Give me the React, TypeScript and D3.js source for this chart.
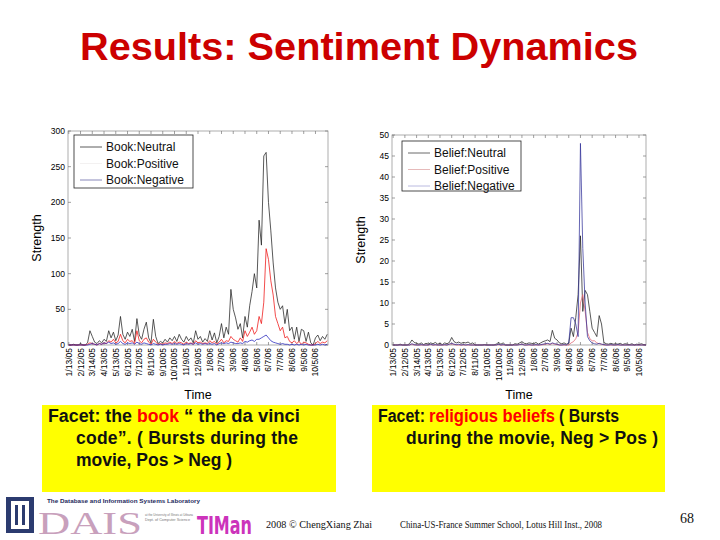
import React from "react";
import * as d3 from "d3";

// samples are every STEP days starting at 1/13/05
const STEP = 6;

const tickLabels = [
  "1/13/05", "2/12/05", "3/14/05", "4/13/05", "5/13/05", "6/12/05", "7/12/05", "8/11/05",
  "9/10/05", "10/10/05", "11/9/05", "12/9/05", "1/8/06", "2/7/06", "3/9/06", "4/8/06",
  "5/8/06", "6/7/06", "7/7/06", "8/6/06", "9/5/06", "10/5/06",
];
const tickDays = tickLabels.map((_, i) => i * 30);

const bookTicks = [0, 50, 100, 150, 200, 250, 300];
const beliefTicks = [0, 5, 10, 15, 20, 25, 30, 35, 40, 45, 50];

const bookNeutral = [
  0, 0, 1, 0, 0, 2, 0, 0, 3, 20, 12, 4, 2, 6, 3, 8, 5, 20, 10, 18,
  6, 14, 40, 15, 8, 18, 12, 22, 5, 37, 14, 8, 22, 32, 10, 3, 36, 12, 2, 5,
  3, 8, 4, 10, 6, 12, 5, 15, 8, 4, 12, 6, 10, 3, 20, 8, 12, 4, 9, 5,
  20, 7, 17, 3, 12, 30, 10, 25, 15, 78, 50, 38, 22, 30, 10, 40, 25, 55, 75, 100,
  80, 175, 140, 265, 270, 200, 160, 115, 80, 60, 50, 55, 30, 50, 20, 25, 8, 25, 5, 22,
  20, 5, 18, 3, 0, 10, 14, 6, 12, 8, 15,
];
const bookPositive = [
  0, 0, 0, 0, 0, 0, 0, 0, 1, 3, 2, 1, 0, 2, 1, 3, 2, 6, 4, 8,
  3, 5, 15, 6, 3, 8, 5, 6, 2, 20, 6, 3, 8, 10, 4, 1, 8, 4, 1, 2,
  1, 3, 2, 4, 2, 5, 2, 4, 3, 1, 4, 2, 3, 1, 6, 3, 4, 2, 3, 2,
  6, 3, 5, 1, 4, 8, 3, 6, 5, 12, 8, 6, 4, 10, 5, 20, 12, 18, 25, 15,
  20, 40, 30, 60, 135, 120, 90, 70, 40, 30, 20, 25, 10, 12, 5, 3, 6, 2, 5, 1,
  4, 3, 1, 0, 0, 2, 5, 2, 4, 3, 6,
];
const bookNegative = [
  0, 0, 0, 0, 0, 0, 0, 0, 0, 1, 2, 1, 0, 2, 1, 3, 2, 4, 2, 3,
  1, 2, 5, 2, 1, 3, 2, 3, 1, 4, 2, 1, 3, 2, 1, 0, 2, 1, 0, 1,
  0, 1, 1, 2, 1, 2, 1, 2, 1, 0, 2, 1, 2, 1, 3, 1, 2, 1, 2, 1,
  2, 1, 2, 0, 2, 3, 2, 3, 2, 4, 3, 2, 2, 3, 2, 5, 4, 6, 7, 5,
  8, 8, 10, 12, 14, 10, 6, 4, 3, 2, 1, 2, 1, 1, 0, 1, 0, 1, 0, 1,
  0, 1, 0, 0, 0, 0, 1, 0, 1, 0, 1,
];

const beliefNeutral = [
  0, 0, 0, 0.2, 0, 0, 0, 0.3, 1.2, 0.6, 0.4, 0.2, 0.5, 0.1, 0.4, 0.2, 0.5, 0.3, 0.6, 0.2,
  0.4, 0.1, 0.5, 0.3, 0.6, 1.8, 0.8, 0.5, 0.7, 0.4, 0.6, 0.5, 0.7, 0.3, 0.5, 0, 0, 0, 0, 0.1,
  0, 0, 0, 0, 0.2, 0.6, 0.2, 0.5, 0, 0, 0, 0, 0.3, 0.2, 0.5, 0.8, 0.4, 0.3, 0.5, 0.4,
  0.3, 0.6, 0.2, 0.5, 0.8, 1.0, 1.2, 0.8, 3.5, 1.6, 1.2, 0.5, 0.3, 0.5, 0.2, 0.4, 4.0, 2.0, 6.5, 12,
  26, 8, 13, 12, 8, 4, 3, 2, 7, 5, 0.6, 0.3, 0.2, 0.4, 0.2, 0.3, 0.2, 0.4, 0.1, 0.3,
  0.2, 0.1, 0.3, 0, 0.2, 0.1, 0.3, 0.1, 0,
];
const beliefPositive = [
  0, 0, 0, 0, 0, 0, 0, 0, 0.2, 0, 0, 0, 0, 0, 0, 0, 0.1, 0, 0, 0,
  0, 0, 0, 0, 0.2, 0.3, 0.1, 0, 0, 0, 0, 0, 0, 0, 0, 0, 0, 0, 0, 0,
  0, 0, 0, 0, 0, 0.1, 0, 0, 0, 0, 0, 0, 0, 0, 0.1, 0.2, 0, 0, 0, 0,
  0, 0, 0, 0, 0.1, 0.2, 0.3, 0.1, 0.4, 0.2, 0.1, 0, 0, 0, 0, 0, 0.5, 0.8, 1.5, 3,
  10, 12, 8, 3, 1.5, 1, 1, 0.5, 0.3, 0.2, 0, 0, 0, 0, 0, 0, 0, 0, 0, 0,
  0, 0, 0, 0, 0, 0, 0, 0, 0,
];
const beliefNegative = [
  0, 0, 0, 0, 0, 0, 0, 0, 0.3, 0.1, 0, 0, 0.1, 0, 0, 0, 0.2, 0, 0.1, 0,
  0, 0, 0.1, 0, 0.2, 0.4, 0.2, 0.1, 0.2, 0, 0.1, 0, 0.1, 0, 0, 0, 0, 0, 0, 0,
  0, 0, 0, 0, 0, 0.2, 0, 0.1, 0, 0, 0, 0, 0, 0, 0.1, 0.2, 0, 0, 0.1, 0,
  0, 0.1, 0, 0.1, 0.2, 0.3, 0.4, 0.2, 0.5, 0.3, 0.2, 0, 0, 0.1, 0, 0.5, 6.5, 6.5, 5, 2,
  48, 23, 10, 2, 1, 0.5, 0.3, 0.2, 0.4, 0.2, 0.1, 0, 0, 0.1, 0, 0, 0.1, 0, 0, 0,
  0, 0, 0, 0, 0, 0, 0, 0, 0,
];

const FONT = "'Liberation Sans', Arial, sans-serif";
const SERIF = "'Liberation Serif', 'Times New Roman', serif";

type Series = { values: number[]; color: string; legendColor: string; name: string };

function Panel(props: {
  left: number; right: number; top: number; bottom: number;
  xDomain: [number, number]; yTicks: number[]; series: Series[];
  legend: { x: number; y: number; w: number; h: number };
}) {
  const { left, right, top, bottom, xDomain, yTicks, series, legend } = props;
  const x = d3.scaleLinear().domain(xDomain).range([left, right]);
  const y = d3.scaleLinear().domain([0, yTicks[yTicks.length - 1]]).range([bottom, top]);
  const line = d3.line<number>().x((_, i) => x(i * STEP)).y((d) => y(d));
  const tk = 3;
  return (
    <g>
      <rect x={left} y={top} width={right - left} height={bottom - top} fill="#fff" stroke="#9a9a9a" strokeWidth={0.8} />
      {yTicks.map((t) => (
        <g key={"y" + t}>
          <line x1={left} x2={left + tk} y1={y(t)} y2={y(t)} stroke="#777" strokeWidth={0.7} />
          <line x1={right - tk} x2={right} y1={y(t)} y2={y(t)} stroke="#777" strokeWidth={0.7} />
          <text x={left - 3} y={y(t)} dy="0.35em" textAnchor="end" fontSize={8.5} fontFamily={FONT} fill="#000">{t}</text>
        </g>
      ))}
      {tickDays.map((d, i) => (
        <g key={"x" + d}>
          <line x1={x(d)} x2={x(d)} y1={bottom} y2={bottom - tk} stroke="#777" strokeWidth={0.7} />
          <line x1={x(d)} x2={x(d)} y1={top} y2={top + tk} stroke="#777" strokeWidth={0.7} />
          <text transform={`translate(${x(d)},${bottom + 3}) rotate(-90)`} dy="0.35em" textAnchor="end" fontSize={8.5} fontFamily={FONT} fill="#000">{tickLabels[i]}</text>
        </g>
      ))}
      {series.map((s) => (
        <path key={s.name} d={line(s.values) || ""} fill="none" stroke={s.color} strokeWidth={0.75} strokeLinejoin="round" />
      ))}
      <text x={(left + right) / 2} y={bottom + 54} textAnchor="middle" fontSize={12.5} fontFamily={FONT} fill="#000">Time</text>
      <text transform={`translate(${left - 27},${(top + bottom) / 2}) rotate(-90)`} textAnchor="middle" fontSize={12.5} fontFamily={FONT} fill="#000">Strength</text>
      <rect x={legend.x} y={legend.y} width={legend.w} height={legend.h} fill="#fff" stroke="#222" strokeWidth={0.8} />
      {series.map((s, i) => {
        const ly = legend.y + 12 + i * 16.5;
        return (
          <g key={"l" + s.name}>
            <line x1={legend.x + 6} x2={legend.x + 28} y1={ly} y2={ly} stroke={s.legendColor} strokeWidth={0.8} />
            <text x={legend.x + 32} y={ly} dy="0.35em" fontSize={12} fontFamily={FONT} fill="#111">{s.name}</text>
          </g>
        );
      })}
    </g>
  );
}

export default function App() {
  const bookSeries: Series[] = [
    { name: "Book:Neutral", values: bookNeutral, color: "#222", legendColor: "#333" },
    { name: "Book:Positive", values: bookPositive, color: "#ee1111", legendColor: "#f0eeee" },
    { name: "Book:Negative", values: bookNegative, color: "#2222bb", legendColor: "#6a6aa8" },
  ];
  const beliefSeries: Series[] = [
    { name: "Belief:Neutral", values: beliefNeutral, color: "#222", legendColor: "#444" },
    { name: "Belief:Positive", values: beliefPositive, color: "#e06070", legendColor: "#e0a8a8" },
    { name: "Belief:Negative", values: beliefNegative, color: "#333399", legendColor: "#a8a8d8" },
  ];
  const adj = "spacingAndGlyphs";
  return (
    <div style={{ position: "absolute", left: 0, top: 0 }}>
      <svg width={720} height={540} style={{ display: "block", background: "#fff" }}>
        <text x={359} y={60} textAnchor="middle" fontSize={39} fontWeight="bold" fontFamily={FONT} fill="#cc0000"
          textLength={558} lengthAdjust={adj}>
          Results: Sentiment Dynamics
        </text>

        <Panel left={68} right={328} top={131} bottom={345} xDomain={[-2, 662]} yTicks={bookTicks}
          series={bookSeries} legend={{ x: 74, y: 135, w: 119, h: 53 }} />
        <Panel left={392} right={646} top={135} bottom={345} xDomain={[-3, 648]} yTicks={beliefTicks}
          series={beliefSeries} legend={{ x: 402, y: 141, w: 119, h: 50 }} />

        <rect x={42} y={405} width={294} height={87} fill="#ffff00" />
        <rect x={372} y={405} width={293} height={87} fill="#ffff00" />
        <g fontFamily={FONT} fontWeight="bold" fontSize={17.5} fill="#111">
          <text x={48} y={422} textLength={84} lengthAdjust={adj}>Facet: the</text>
          <text x={137} y={422} textLength={42} lengthAdjust={adj} fill="#ff0000">book</text>
          <text x={184} y={422} textLength={116} lengthAdjust={adj}>“ the da vinci</text>
          <text x={76} y={444} textLength={222} lengthAdjust="spacing">code”. ( Bursts during the</text>
          <text x={76} y={466}>movie, Pos &gt; Neg )</text>
          <text x={378} y={422} textLength={47} lengthAdjust={adj}>Facet:</text>
          <text x={429} y={422} textLength={126} lengthAdjust={adj} fill="#ff0000">religious beliefs</text>
          <text x={559} y={422} textLength={60} lengthAdjust={adj}>( Bursts</text>
          <text x={406} y={444} textLength={252} lengthAdjust="spacing">during the movie, Neg &gt; Pos )</text>
        </g>

        {/* footer logos */}
        <rect x={6} y={497} width={28} height={36} fill="#2b3b6f" />
        <rect x={11} y={501} width={18} height={28} fill="#fff" />
        <rect x={15} y={505} width={10} height={20} fill="#2b3b6f" />
        <rect x={18} y={505} width={4} height={20} fill="#fff" />
        <text x={47} y={503} fontFamily={FONT} fontWeight="bold" fontSize={5} fill="#1d2a5c" textLength={153} lengthAdjust={adj}>The Database and Information Systems Laboratory</text>
        <text x={38} y={534} fontFamily={SERIF} fontSize={32} fill="#c8a0bc" textLength={104} lengthAdjust={adj}>DAIS</text>
        <text x={145} y={516} fontFamily={FONT} fontSize={3} fill="#777" textLength={48} lengthAdjust={adj}>at the University of Illinois at Urbana</text>
        <text x={145} y={521} fontFamily={FONT} fontSize={3} fill="#777" textLength={45} lengthAdjust={adj}>Dept. of Computer Science</text>
        <text x={197} y={534} fontFamily="'DejaVu Sans Condensed', 'DejaVu Sans', sans-serif" fontWeight="bold" fontSize={24} fill="#cc33bb"
          textLength={55} lengthAdjust={adj}>TIMan</text>

        <text x={266} y={528} fontFamily={SERIF} fontSize={10} fill="#111" textLength={106} lengthAdjust={adj}>2008  © ChengXiang Zhai</text>
        <text x={400} y={528} fontFamily={SERIF} fontSize={10} fill="#111" textLength={202} lengthAdjust={adj}>China-US-France Summer School, Lotus Hill Inst., 2008</text>
        <text x={680} y={523} fontFamily={SERIF} fontSize={14} fill="#111">68</text>
      </svg>
    </div>
  );
}
